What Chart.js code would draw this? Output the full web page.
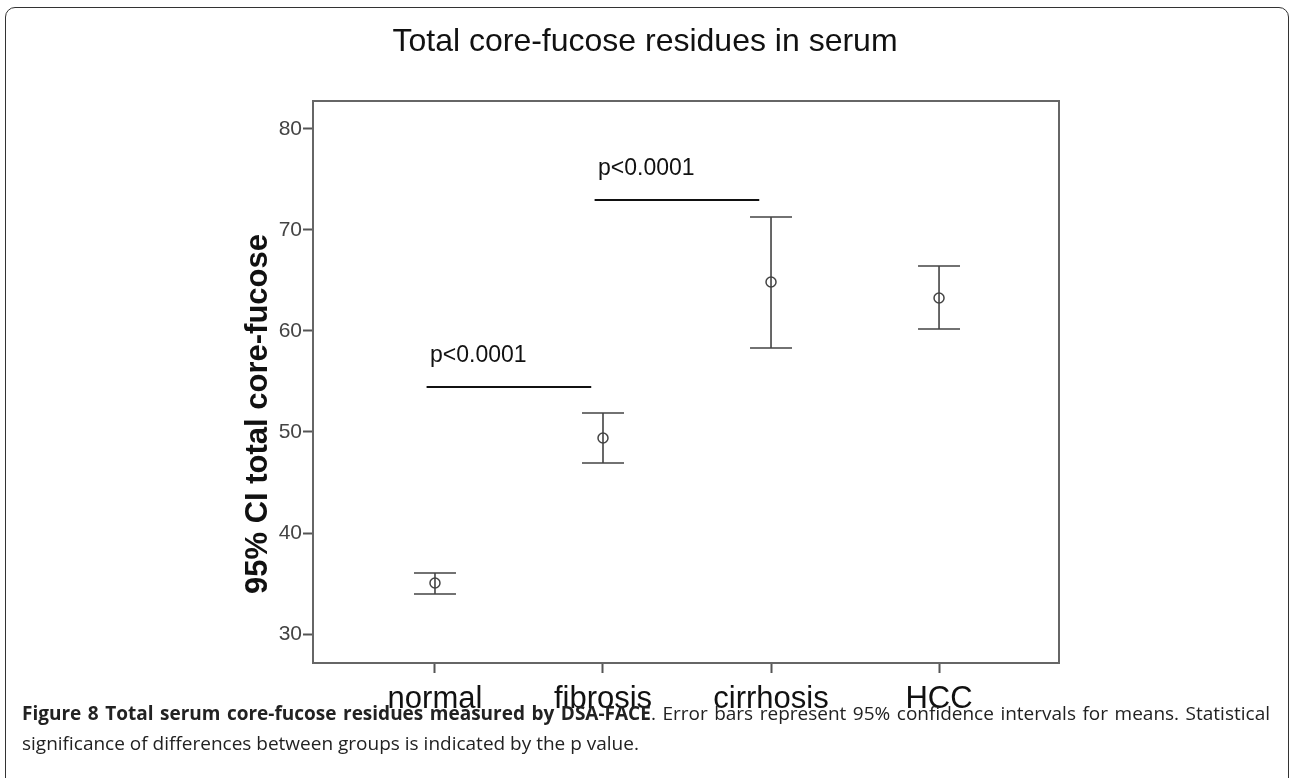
<!DOCTYPE html>
<html>
<head>
<meta charset="utf-8">
<title>Total core-fucose residues in serum</title>
<script src="https://cdn.jsdelivr.net/npm/chart.js@4.4.0/dist/chart.umd.min.js"></script>
<style>
    html, body { margin: 0; padding: 0; background: #fff; }
    body { width: 1290px; height: 778px; position: relative; overflow: hidden; }
    .frame {
        position: absolute; left: 5px; top: 7px; width: 1284px; height: 820px;
        border: 1.5px solid #333; border-radius: 10px; box-sizing: border-box;
    }
    #wrap { position: absolute; left: 0; top: 0; width: 1290px; height: 715px; }
    .caption {
        position: absolute; left: 22px; top: 698px; width: 1248px;
        font: 19px/30px "Open Sans", sans-serif;
        color: #222; white-space: nowrap;
    }
    .caption .l1 { text-align: justify; text-align-last: justify; }
</style>
</head>
<body>
<div class="frame"></div>
<div id="wrap"><canvas id="chart"></canvas></div>
<div class="caption">
    <div class="l1"><b>Figure 8 Total serum core-fucose residues measured by DSA-FACE</b>. Error bars represent 95% confidence intervals for means. Statistical</div>
    <div>significance of differences between groups is indicated by the p value.</div>
</div>
<script>
// ---- data ----
const groups = ['normal', 'fibrosis', 'cirrhosis', 'HCC'];
const ciMean = [35.05, 49.41, 64.85, 63.27];
const ciLower = [33.96, 46.93, 58.32, 60.20];
const ciUpper = [36.04, 51.88, 71.29, 66.44];
const yTicks = [30, 40, 50, 60, 70, 80];

// significance brackets: from group -> to group, at level
const sigFrom = [1, 2];
const sigTo = [2, 3];
const sigLevel = [54.46, 72.97];
const sigText = ['p<0.0001', 'p<0.0001'];

const FONT = '"Liberation Sans", Arial, sans-serif';
const capHalf = 0.125;

// error bar segments (null breaks the line)
const barPts = [];
groups.forEach((g, i) => {
    const x = i + 1;
    barPts.push({ x: x, y: ciLower[i] }, { x: x, y: ciUpper[i] }, { x: x, y: null });
    barPts.push({ x: x - capHalf, y: ciUpper[i] }, { x: x + capHalf, y: ciUpper[i] }, { x: x, y: null });
    barPts.push({ x: x - capHalf, y: ciLower[i] }, { x: x + capHalf, y: ciLower[i] }, { x: x, y: null });
});

const sigPts = [];
sigFrom.forEach((f, i) => {
    sigPts.push({ x: f - 0.05, y: sigLevel[i] }, { x: sigTo[i] - 0.07, y: sigLevel[i] }, { x: f, y: null });
});

const meanPts = ciMean.map((v, i) => ({ x: i + 1, y: v }));

// top + right edges of the plot box, p-value labels, y axis title
const boxAndLabels = {
    id: 'boxAndLabels',
    beforeDatasetsDraw(chart) {
        const { ctx, chartArea: a } = chart;
        ctx.save();
        ctx.strokeStyle = '#666';
        ctx.lineWidth = 2;
        ctx.beginPath();
        ctx.moveTo(a.left, a.top);
        ctx.lineTo(a.right, a.top);
        ctx.lineTo(a.right, a.bottom);
        ctx.stroke();
        ctx.restore();
    },
    afterDatasetsDraw(chart) {
        const { ctx, scales, chartArea: a } = chart;
        ctx.save();
        ctx.fillStyle = '#111';
        ctx.font = '23px ' + FONT;
        ctx.textBaseline = 'alphabetic';
        sigText.forEach((t, i) => {
            const px = scales.x.getPixelForValue(sigFrom[i]) - 5;
            const py = scales.y.getPixelForValue(sigLevel[i]) - 25;
            ctx.fillText(t, px, py);
        });
        // y axis title
        ctx.translate(a.left - 55, (a.top + a.bottom) / 2 + 32);
        ctx.rotate(-Math.PI / 2);
        ctx.textAlign = 'center';
        ctx.textBaseline = 'middle';
        ctx.font = 'bold 31px ' + FONT;
        ctx.fillText('95% CI total core-fucose', 0, 0);
        ctx.restore();
    }
};

new Chart(document.getElementById('chart'), {
    type: 'scatter',
    data: {
        datasets: [
            {
                data: barPts, showLine: true, spanGaps: false,
                borderColor: '#444', borderWidth: 1.6, pointRadius: 0
            },
            {
                data: sigPts, showLine: true, spanGaps: false,
                borderColor: '#111', borderWidth: 2, pointRadius: 0
            },
            {
                data: meanPts, pointStyle: 'circle', pointRadius: 5,
                borderColor: '#444', borderWidth: 1.5,
                backgroundColor: 'rgba(0,0,0,0)'
            }
        ]
    },
    options: {
        responsive: true,
        maintainAspectRatio: false,
        animation: false,
        plugins: {
            legend: { display: false },
            tooltip: { enabled: false },
            title: {
                display: true,
                text: 'Total core-fucose residues in serum',
                color: '#111',
                font: { family: FONT, size: 32, weight: 'normal' },
                padding: { top: 23, bottom: 39.6 }
            }
        },
        scales: {
            x: {
                type: 'linear',
                min: 0.274,
                max: 4.714,
                afterBuildTicks: s => { s.ticks = groups.map((g, i) => ({ value: i + 1 })); },
                afterFit: s => { s.height = 52; },
                ticks: {
                    color: '#111',
                    font: { family: FONT, size: 31 },
                    padding: 8,
                    callback: v => groups[v - 1]
                },
                grid: {
                    drawOnChartArea: false, drawTicks: true,
                    tickLength: 10, tickColor: '#555', tickWidth: 2
                },
                border: { display: true, color: '#666', width: 2 }
            },
            y: {
                min: 27.13,
                max: 82.77,
                afterBuildTicks: s => { s.ticks = yTicks.map(v => ({ value: v })); },
                afterFit: s => { s.width = 313; },
                ticks: {
                    color: '#444',
                    font: { family: FONT, size: 21 },
                    padding: 1
                },
                grid: {
                    drawOnChartArea: false, drawTicks: true,
                    tickLength: 10, tickColor: '#555', tickWidth: 2
                },
                border: { display: true, color: '#666', width: 2 }
            },
            // empty right-hand axis only keeps the space on the right
            yRight: {
                position: 'right',
                afterFit: s => { s.width = 231; },
                ticks: { display: false },
                grid: { display: false },
                border: { display: false }
            }
        }
    },
    plugins: [boxAndLabels]
});
</script>
</body>
</html>
